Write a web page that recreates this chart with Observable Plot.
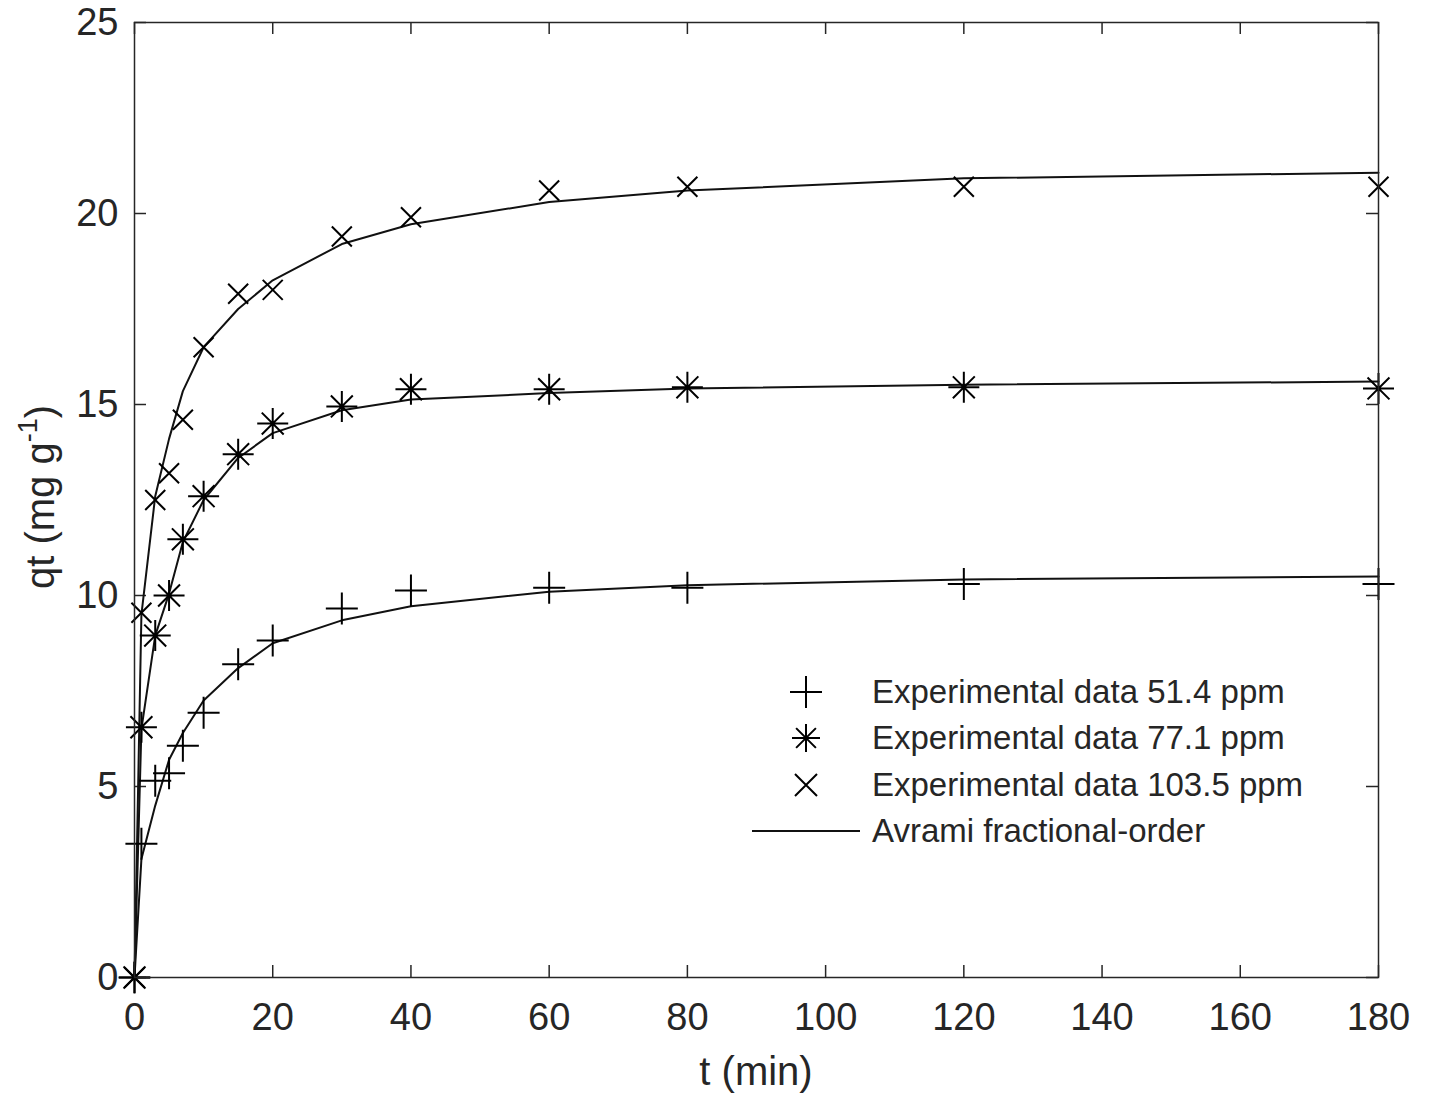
<!DOCTYPE html>
<html><head><meta charset="utf-8">
<script src="https://cdn.jsdelivr.net/npm/d3@7"></script>
<script src="https://cdn.jsdelivr.net/npm/@observablehq/plot@0.6"></script>
<style>
body{margin:0;background:#fff;}
#wrap{position:relative;width:1431px;height:1097px;font-family:"Liberation Sans",Arial,Helvetica,sans-serif;color:#262626;overflow:hidden;}
#wrap svg{display:block;}
.lbl{position:absolute;font-size:40px;white-space:nowrap;line-height:1;}
.lbl sup{font-size:27px;position:relative;top:-5px;vertical-align:top;}
.leg{position:absolute;left:752px;top:669px;}
.row{position:absolute;left:0;height:46px;display:flex;align-items:center;white-space:nowrap;font-size:33px;}
.row svg{flex:none;}
</style></head><body><div id="wrap"></div>
<script>
// ---- data ----
const times = [0, 1, 3, 5, 7, 10, 15, 20, 30, 40, 60, 80, 120, 180];
const exp51  = [0, 3.5, 5.15, 5.35, 6.07, 6.93, 8.2, 8.82, 9.66, 10.13, 10.2, 10.2, 10.3, 10.3];
const exp77  = [0, 6.55, 8.95, 10.0, 11.47, 12.6, 13.7, 14.5, 14.95, 15.4, 15.4, 15.45, 15.45, 15.42];
const exp103 = [0, 9.55, 12.5, 13.2, 14.6, 16.5, 17.9, 18.0, 19.4, 19.9, 20.6, 20.7, 20.7, 20.7];
const fit51  = [0, 3.1, 4.5, 5.7, 6.4, 7.25, 8.1, 8.75, 9.35, 9.72, 10.1, 10.27, 10.42, 10.5];
const fit77  = [0, 6.5, 8.95, 10.05, 11.4, 12.5, 13.6, 14.25, 14.85, 15.13, 15.3, 15.42, 15.52, 15.6];
const fit103 = [0, 9.5, 12.6, 14.1, 15.35, 16.5, 17.5, 18.25, 19.2, 19.72, 20.3, 20.6, 20.92, 21.07];
const xTicks = [0, 20, 40, 60, 80, 100, 120, 140, 160, 180];
const yTicks = [0, 5, 10, 15, 20, 25];
const legendLabels = ["Experimental data 51.4 ppm", "Experimental data 77.1 ppm", "Experimental data 103.5 ppm", "Avrami fractional-order"];
const xLabel = "t (min)";

// ---- marker symbols (MATLAB style) ----
const R = s => Math.sqrt(s / Math.PI);
const plusSym = {draw(c, s){const r = R(s); c.moveTo(-r,0); c.lineTo(r,0); c.moveTo(0,-r); c.lineTo(0,r);}};
const starSym = {draw(c, s){const r = R(s), d = r*Math.SQRT1_2;
  c.moveTo(-r,0); c.lineTo(r,0); c.moveTo(0,-r); c.lineTo(0,r);
  c.moveTo(-d,-d); c.lineTo(d,d); c.moveTo(-d,d); c.lineTo(d,-d);}};
const timesSym = {draw(c, s){const r = R(s); c.moveTo(-r,-r); c.lineTo(r,r); c.moveTo(-r,r); c.lineTo(r,-r);}};

const rows = (ys) => times.map((t, i) => ({t, q: ys[i]}));

const W = 1431, H = 1097, mL = 134, mR = 53, mT = 22, mB = 120;
const innerW = W - mL - mR, innerH = H - mT - mB;
const axisColor = "#262626";

const chart = Plot.plot({
  width: W, height: H,
  marginLeft: mL, marginRight: mR, marginTop: mT, marginBottom: mB,
  style: {fontFamily: "'Liberation Sans', Arial, Helvetica, sans-serif", fontSize: "38px", color: axisColor, background: "white", overflow: "visible"},
  x: {domain: [0, 180], ticks: xTicks, tickSize: 0, tickPadding: 26, label: null, tickFormat: d3.format("d")},
  y: {domain: [0, 25], ticks: yTicks, tickSize: 0, tickPadding: 16, label: null, tickFormat: d3.format("d")},
  marks: [
    Plot.ruleX(xTicks, {insetTop: innerH - 12, stroke: axisColor, strokeWidth: 1.5}),
    Plot.ruleX(xTicks, {insetBottom: innerH - 12, stroke: axisColor, strokeWidth: 1.5}),
    Plot.ruleY(yTicks, {insetRight: innerW - 12, stroke: axisColor, strokeWidth: 1.5}),
    Plot.ruleY(yTicks, {insetLeft: innerW - 12, stroke: axisColor, strokeWidth: 1.5}),
    Plot.line(rows(fit51),  {x: "t", y: "q", stroke: "#111", strokeWidth: 2}),
    Plot.line(rows(fit77),  {x: "t", y: "q", stroke: "#111", strokeWidth: 2}),
    Plot.line(rows(fit103), {x: "t", y: "q", stroke: "#111", strokeWidth: 2}),
    Plot.dot(rows(exp51),  {x: "t", y: "q", symbol: plusSym,  r: 16,   fill: "none", stroke: "#000", strokeWidth: 2}),
    Plot.dot(rows(exp77),  {x: "t", y: "q", symbol: starSym,  r: 15.5, fill: "none", stroke: "#000", strokeWidth: 2}),
    Plot.dot(rows(exp103), {x: "t", y: "q", symbol: timesSym, r: 10,   fill: "none", stroke: "#000", strokeWidth: 2}),
    Plot.frame({stroke: axisColor, strokeWidth: 1.5})
  ]
});
const wrap = document.getElementById("wrap");
wrap.appendChild(chart);

// axis labels
const xl = document.createElement("div");
xl.className = "lbl"; xl.textContent = xLabel;
xl.style.left = (mL + innerW / 2) + "px"; xl.style.top = "1051px"; xl.style.transform = "translateX(-50%)";
wrap.appendChild(xl);
const yl = document.createElement("div");
yl.className = "lbl"; yl.innerHTML = "qt (mg g<sup>-1</sup>)";
yl.style.left = "40px"; yl.style.top = "497px";
yl.style.transform = "translate(-50%,-50%) rotate(-90deg)";
wrap.appendChild(yl);

// legend
const leg = document.createElement("div"); leg.className = "leg"; wrap.appendChild(leg);
const syms = [plusSym, starSym, timesSym, null];
const symR = [16, 14, 11];
legendLabels.forEach((lab, i) => {
  const row = document.createElement("div"); row.className = "row";
  row.style.top = (i * 46.3) + "px";
  const svg = d3.create("svg").attr("width", 120).attr("height", 46);
  if (syms[i]) {
    svg.append("path").attr("transform", "translate(54,23)")
      .attr("d", d3.symbol(syms[i], Math.PI * symR[i] * symR[i])())
      .attr("fill", "none").attr("stroke", "#000").attr("stroke-width", 2);
  } else {
    svg.append("line").attr("x1", 0).attr("x2", 108).attr("y1", 23).attr("y2", 23)
      .attr("stroke", "#111").attr("stroke-width", 2);
  }
  row.appendChild(svg.node());
  const sp = document.createElement("span"); sp.textContent = lab; row.appendChild(sp);
  leg.appendChild(row);
});
</script></body></html>
